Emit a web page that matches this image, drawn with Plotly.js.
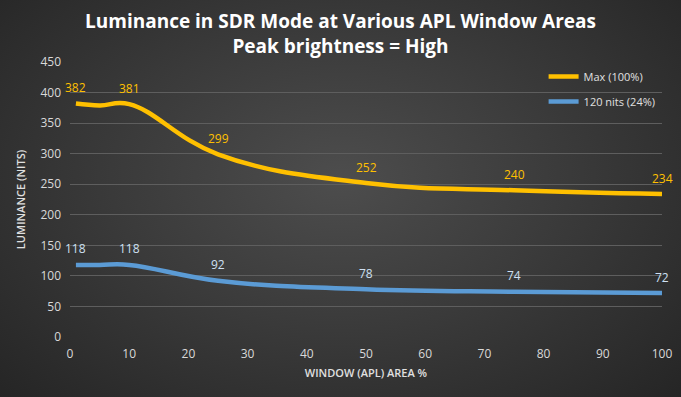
<!DOCTYPE html>
<html><head><meta charset="utf-8">
<script src="https://cdn.plot.ly/plotly-3.0.1.min.js"></script>
<style>
html,body{margin:0;padding:0;}
body{width:681px;height:397px;background:radial-gradient(ellipse 75% 85% at 50% 45%, #4d4d4d 0%, #3a3a3a 45%, #222222 100%);}
#chart{width:681px;height:397px;}
</style></head>
<body><div id="chart"></div>
<script>
const windowArea = [1, 5, 10, 25, 50, 75, 100];
const maxSeries = [382, 379, 381, 299, 252, 240, 234];
const nitsSeries = [118, 118, 118, 92, 78, 74, 72];
const labelShown = [true, false, true, true, true, true, true];
const yTicks = [0, 50, 100, 150, 200, 250, 300, 350, 400, 450];
const xTicks = [0, 10, 20, 30, 40, 50, 60, 70, 80, 90, 100];
const titleLines = ['Luminance in SDR Mode at Various APL Window Areas', 'Peak brightness = High'];

const gold = '#FFC000', blue = '#5B9BD5';
const FONT = 'Open Sans, sans-serif';
const traces = [
  {x: windowArea, y: maxSeries, name: 'Max (100%)', mode: 'lines', legendgroup: 'a',
   line: {color: gold, width: 4.5, shape: 'spline', smoothing: 1.2}, hoverinfo: 'skip'},
  {x: windowArea, y: nitsSeries, name: '120 nits (24%)', mode: 'lines', legendgroup: 'b',
   line: {color: blue, width: 4.5, shape: 'spline', smoothing: 1.2}, hoverinfo: 'skip'}
];
const annotations = [];
windowArea.forEach((xv, i) => {
  if (!labelShown[i]) return;
  annotations.push({x: xv, y: maxSeries[i], xref: 'x', yref: 'y', text: String(maxSeries[i]),
    showarrow: false, yshift: 16, font: {family: FONT, size: 12, color: gold}});
  annotations.push({x: xv, y: nitsSeries[i], xref: 'x', yref: 'y', text: String(nitsSeries[i]),
    showarrow: false, yshift: 16, font: {family: FONT, size: 12, color: '#cfe0f3'}});
});
// title block (paper coords: plot spans x 70..662, top = 1 at 62px, 275px tall)
const titleX = (340 - 70) / 592;
annotations.push({x: titleX, xref: 'paper', y: 1 + (62 - 33) / 275, yref: 'paper', yanchor: 'middle',
  xanchor: 'center', align: 'center', showarrow: false, text: titleLines.join('<br>'),
  font: {family: FONT, size: 19, color: '#ffffff', weight: 'bold'}});

const layout = {
  width: 681, height: 397,
  paper_bgcolor: 'rgba(0,0,0,0)', plot_bgcolor: 'rgba(0,0,0,0)',
  margin: {l: 70, r: 19, t: 62, b: 60},
  xaxis: {range: [0, 100], tickvals: xTicks, showgrid: false, zeroline: false, showline: false,
    ticks: '', ticklabelstandoff: 8, tickfont: {family: FONT, size: 12, color: '#d9d9d9'},
    title: {text: 'WINDOW (APL) AREA %', standoff: 8, font: {family: FONT, size: 11, color: '#e0e0e0', weight: 600}}},
  yaxis: {range: [0, 450], tickvals: yTicks, showgrid: true, gridcolor: '#5e5e5e', gridwidth: 1,
    zeroline: false, ticks: '', ticklabelstandoff: 8,
    tickfont: {family: FONT, size: 12, color: '#d9d9d9'},
    title: {text: 'LUMINANCE (NITS)', standoff: 12, font: {family: FONT, size: 11, color: '#e0e0e0', weight: 600}}},
  legend: {x: 0.80, y: 1.0, xanchor: 'left', yanchor: 'top', bgcolor: 'rgba(0,0,0,0)',
    traceorder: 'grouped', tracegroupgap: 6,
    font: {family: FONT, size: 11, color: '#e0e0e0'}},
  annotations: annotations,
  showlegend: true
};
Plotly.newPlot('chart', traces, layout, {displayModeBar: false, staticPlot: true});
</script></body></html>
